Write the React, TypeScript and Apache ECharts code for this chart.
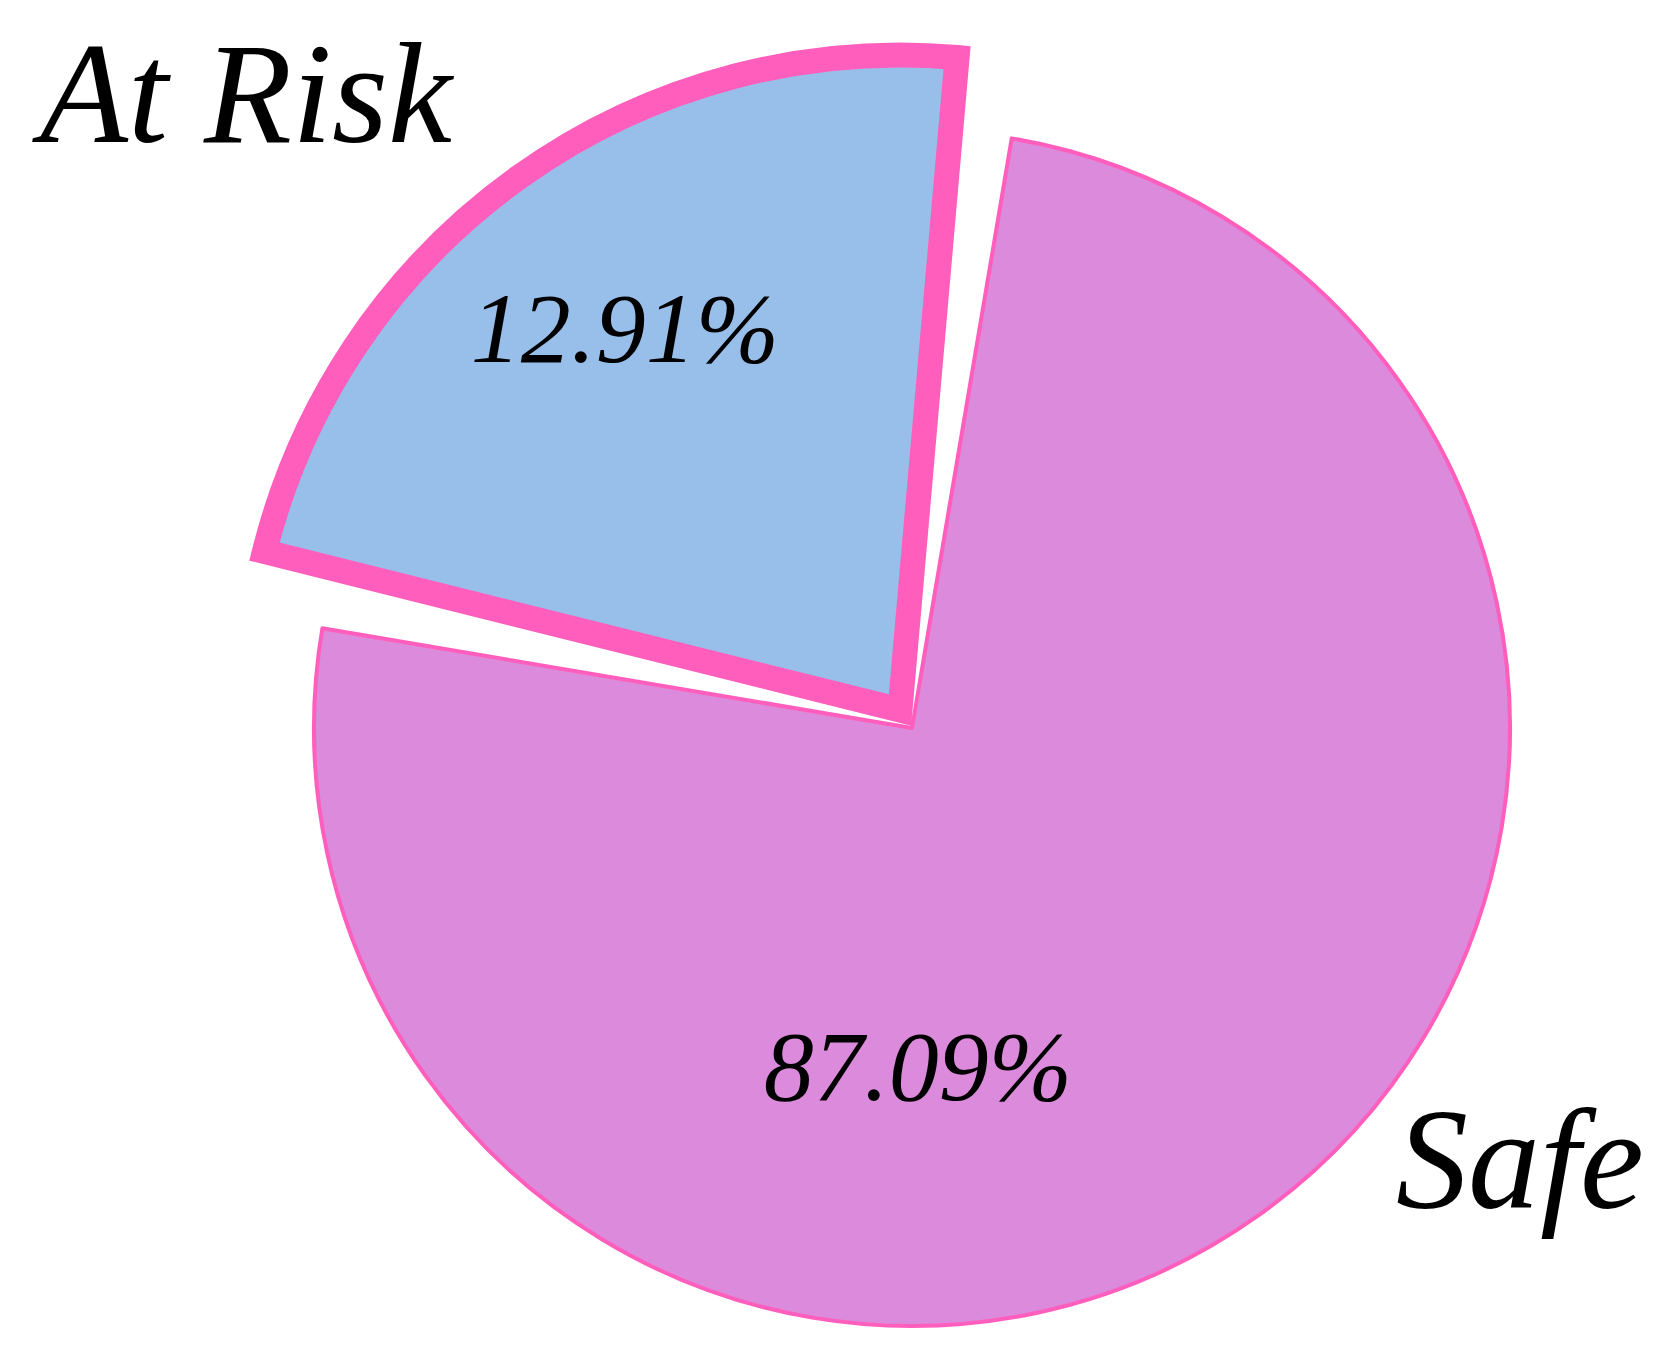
import React, { useEffect, useRef } from "react";
import * as echarts from "echarts";

// Data
const categories = ["Safe", "At Risk"];
const shareValues = [75, 25]; // angular share of each wedge as drawn
const percentLabels = ["87.09%", "12.91%"];

// Styles
const fillColors = ["#DC8ADB", "#97BFEA"];
const edgeColor = "#FF5EBC";
const pctPos = [
  [918, 1066],
  [625, 328],
];
const namePos = [
  [1520, 1159],
  [246, 93],
];

export default function App() {
  const ref = useRef<HTMLDivElement>(null);
  useEffect(() => {
    document.body.style.margin = "0";
    const chart = echarts.init(ref.current!, null, { renderer: "svg" });
    const font = {
      fontFamily: "Liberation Serif",
      fontStyle: "italic" as const,
      color: "#000",
    };
    const layoutAt = (pos: number[][], map: (i: number) => number) => (p: any) => {
      const k = map(p.dataIndex);
      return { x: pos[k][0], y: pos[k][1], align: "center", verticalAlign: "middle" };
    };

    const option: any = {
      animation: false,
      backgroundColor: "#fff",
      series: [
        {
          type: "pie",
          name: "main",
          center: [912, 728],
          radius: 598,
          startAngle: 80.4,
          clockwise: true,
          silent: true,
          avoidLabelOverlap: false,
          labelLine: { show: false },
          label: { position: "inside", ...font, fontSize: 100 },
          labelLayout: layoutAt(pctPos, (i) => i),
          data: [
            {
              name: categories[0],
              value: shareValues[0],
              itemStyle: { color: fillColors[0], borderColor: edgeColor, borderWidth: 4 },
              label: { show: true, formatter: percentLabels[0] },
            },
            {
              name: categories[1],
              value: shareValues[1],
              itemStyle: { color: "rgba(0,0,0,0)", borderWidth: 0 },
              label: { show: false },
            },
          ],
        },
        {
          type: "pie",
          name: "exploded",
          center: [900, 710],
          radius: 655,
          startAngle: 166,
          endAngle: 85,
          clockwise: true,
          silent: true,
          avoidLabelOverlap: false,
          labelLine: { show: false },
          label: { position: "inside", ...font, fontSize: 100 },
          labelLayout: layoutAt(pctPos, () => 1),
          data: [
            {
              name: categories[1],
              value: shareValues[1],
              itemStyle: {
                color: fillColors[1],
                borderColor: edgeColor,
                borderWidth: 25,
                borderJoin: "miter",
                borderMiterLimit: 10,
              },
              label: { show: true, formatter: percentLabels[1] },
            },
          ],
        },
        {
          type: "pie",
          name: "names",
          center: [912, 728],
          radius: 598,
          startAngle: 80.4,
          clockwise: true,
          silent: true,
          avoidLabelOverlap: false,
          labelLine: { show: false },
          label: { show: true, position: "inside", ...font, fontSize: 144, formatter: "{b}" },
          labelLayout: layoutAt(namePos, (i) => i),
          itemStyle: { color: "rgba(0,0,0,0)", borderWidth: 0 },
          data: categories.map((c, i) => ({ name: c, value: shareValues[i] })),
        },
      ],
    };
    chart.setOption(option);
    return () => chart.dispose();
  }, []);
  return (
    <div
      ref={ref}
      style={{ position: "fixed", left: 0, top: 0, width: 1670, height: 1350, background: "#fff" }}
    />
  );
}
